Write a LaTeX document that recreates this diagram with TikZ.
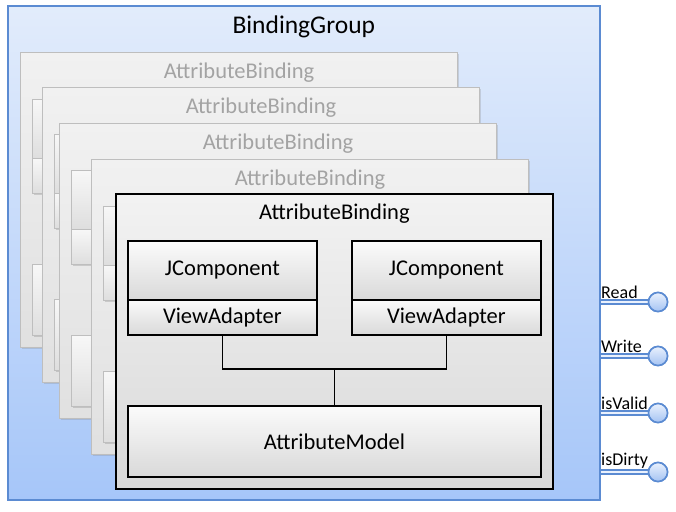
\documentclass[tikz,border=0pt]{standalone}
\usepackage{fontspec}
\setmainfont{Carlito}
\usetikzlibrary{calc,shadows}
\definecolor{grpedge}{HTML}{5B8BD2}
\definecolor{grptop}{HTML}{E2ECFB}
\definecolor{grpbot}{HTML}{A6C6F9}
\definecolor{backedge}{HTML}{BEBEBE}
\definecolor{backtext}{HTML}{A3A3A3}
\definecolor{porttop}{HTML}{EAF1FD}
\definecolor{portbot}{HTML}{A4C3F3}
\newcommand{\titlesize}{\fontsize{25.5}{30}\selectfont}
\newcommand{\labelsize}{\fontsize{22.5}{26}\selectfont}
\newcommand{\portsize}{\fontsize{18}{20}\selectfont}

\begin{document}
\begin{tikzpicture}[x=1pt,y=-1pt]
  \tikzset{
    groupbox/.style={draw=grpedge,line width=1.6pt,top color=grptop,bottom color=grpbot,
      minimum width=592,minimum height=494,anchor=north west,inner sep=0pt},
    bindbox/.style={draw=black,line width=1.8pt,top color=gray!10,bottom color=gray!30,
      minimum width=437,minimum height=295,anchor=north west,inner sep=0pt},
    backbox/.style={bindbox,draw=backedge,line width=1pt,top color=gray!11,bottom color=gray!24,
      drop shadow={opacity=0.25,shadow xshift=1.5pt,shadow yshift=-1.5pt}},
    part/.style={draw=black,line width=1.8pt,top color=gray!3,bottom color=gray!30,
      anchor=north west,inner sep=0pt,font=\labelsize},
    backpart/.style={part,draw=backedge,line width=0.6pt,top color=gray!6,bottom color=gray!26,
      drop shadow={opacity=0.3,shadow xshift=1.2pt,shadow yshift=-1.2pt}},
    bindtitle/.style={font=\labelsize},
    porttip/.style={circle,draw=grpedge,line width=1.6pt,top color=porttop,bottom color=portbot,
      minimum size=19,inner sep=0pt},
    portline/.style={draw=grpedge,double=porttop,double distance=2.6pt,line width=1.5pt},
    portlabel/.style={font=\portsize,anchor=south west,inner sep=1pt}
  }
  \useasboundingbox (0,0) rectangle (676,511);

  % the group
  \node[groupbox] (grp) at (7,5) {};
  \node[font=\titlesize] (grp-t) at ($(grp.north)+(0,22)$) {BindingGroup};

  % bindings stacked behind
  \foreach \i/\ox/\oy in {1/20/52, 2/42/87, 3/59/123, 4/91/159} {
    \begin{scope}[shift={(\ox,\oy)}]
      \node[backbox] (ab\i) at (0,0) {};
      \node[bindtitle,text=backtext] (ab\i-t) at ($(ab\i.north)+(0,21)$) {AttributeBinding};
      \node[backpart,minimum width=189,minimum height=59] (jc\i a) at (12,47) {};
      \node[backpart,minimum width=189,minimum height=35] (va\i a) at (12,106) {};
      \node[backpart,minimum width=189,minimum height=59] (jc\i b) at (236,47) {};
      \node[backpart,minimum width=189,minimum height=35] (va\i b) at (236,106) {};
      \node[backpart,minimum width=413,minimum height=71] (am\i) at (12,212) {};
    \end{scope}
  }

  % front binding
  \node[bindbox] (ab) at (115,193) {};
  \node[bindtitle] (ab-t) at ($(ab.north)+(0,21)$) {AttributeBinding};
  \node[part,minimum width=189,minimum height=59] (jc1) at (127,240) {JComponent};
  \node[part,minimum width=189,minimum height=35] (va1) at (127,299) {ViewAdapter};
  \node[part,minimum width=189,minimum height=59] (jc2) at (351,240) {JComponent};
  \node[part,minimum width=189,minimum height=35] (va2) at (351,299) {ViewAdapter};
  \node[part,minimum width=413,minimum height=71] (am) at (127,405) {AttributeModel};
  \coordinate (jn) at ($(am.north)+(0,-36)$);
  \draw[line width=1.8pt] (va1.south) |- (jn) -| (va2.south);
  \draw[line width=1.8pt] (jn) -- (am.north);

  % ports
  \foreach \y/\t/\n in {302/Read/rd, 356/Write/wr, 413/isValid/iv, 472/isDirty/id} {
    \coordinate (\n-a) at (grp.east |- 0,\y);
    \node[porttip] (\n) at (658,\y) {};
    \draw[portline] (\n-a) -- (\n.west);
    \node[porttip] at (\n) {};
    \node[portlabel] (\n-l) at (600,{\y-2}) {\t};
  }
\end{tikzpicture}
\end{document}
